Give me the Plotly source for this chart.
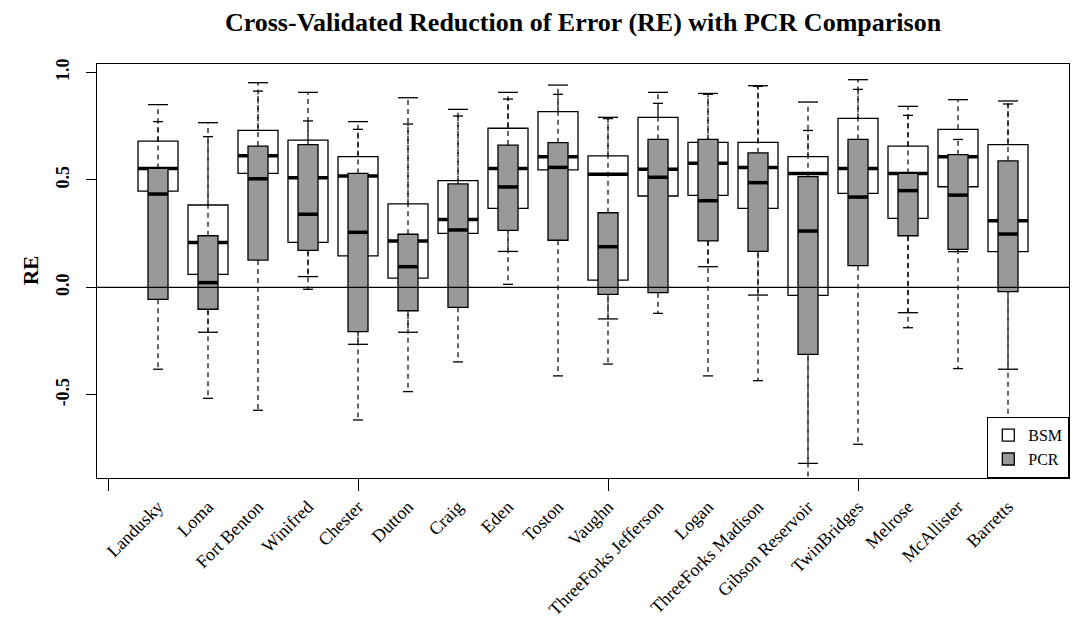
import plotly.graph_objects as go

# ---------------- data ----------------
categories = ["Landusky", "Loma", "Fort Benton", "Winifred", "Chester", "Dutton",
              "Craig", "Eden", "Toston", "Vaughn", "ThreeForks Jefferson", "Logan",
              "ThreeForks Madison", "Gibson Reservoir", "TwinBridges", "Melrose",
              "McAllister", "Barretts"]
positions = list(range(1, len(categories) + 1))

bsm_low = [0.20, -0.209, 0.30, 0.050, -0.265, -0.209, 0.10, 0.167, 0.35, -0.147,
           0.15, 0.096, -0.036, -0.819, 0.25, -0.118, 0.166, -0.381]
bsm_q1 = [0.448, 0.060, 0.530, 0.209, 0.146, 0.043, 0.251, 0.367, 0.546, 0.034,
          0.425, 0.428, 0.367, -0.037, 0.437, 0.321, 0.468, 0.166]
bsm_med = [0.553, 0.209, 0.612, 0.510, 0.518, 0.216, 0.316, 0.553, 0.608, 0.526,
           0.549, 0.577, 0.558, 0.530, 0.553, 0.530, 0.608, 0.310]
bsm_q3 = [0.680, 0.383, 0.730, 0.685, 0.608, 0.388, 0.496, 0.740, 0.817, 0.612,
          0.791, 0.674, 0.674, 0.608, 0.786, 0.657, 0.735, 0.664]
bsm_high = [0.850, 0.766, 0.952, 0.907, 0.771, 0.882, 0.828, 0.907, 0.941, 0.791,
            0.907, 0.902, 0.938, 0.862, 0.966, 0.842, 0.873, 0.867]

pcr_low = [-0.381, -0.516, -0.572, -0.009, -0.617, -0.485, -0.347, 0.014, -0.412, -0.357,
           -0.121, -0.412, -0.434, -0.950, -0.730, -0.188, -0.378, -0.614]
pcr_q1 = [-0.056, -0.102, 0.127, 0.172, -0.206, -0.109, -0.093, 0.265, 0.219, -0.033,
          -0.025, 0.216, 0.167, -0.312, 0.101, 0.240, 0.177, -0.020]
pcr_med = [0.434, 0.022, 0.505, 0.340, 0.256, 0.096, 0.267, 0.467, 0.558, 0.189,
           0.512, 0.403, 0.487, 0.262, 0.420, 0.450, 0.429, 0.248]
pcr_q3 = [0.553, 0.240, 0.657, 0.664, 0.530, 0.247, 0.481, 0.662, 0.673, 0.347,
          0.688, 0.688, 0.626, 0.515, 0.688, 0.530, 0.617, 0.588]
pcr_high = [0.771, 0.701, 0.913, 0.774, 0.735, 0.760, 0.797, 0.876, 0.898, 0.785,
            0.856, 0.898, 0.935, 0.730, 0.921, 0.800, 0.688, 0.853]

y_ticks = [-0.5, 0.0, 0.5, 1.0]
y_tick_text = ["-0.5", "0.0", "0.5", "1.0"]
x_axis_ticks = [0, 5, 10, 15]

SERIF = "Liberation Serif"
X_RANGE = [-0.22, len(categories) + 1.22]
Y_RANGE = [-0.887, 1.039]

fig = go.Figure()


def add_series(name, low, q1, med, q3, high, width, fill, xa, ya):
    fig.add_trace(go.Box(
        x=positions, q1=q1, median=med, q3=q3, lowerfence=q1, upperfence=q3,
        width=width, fillcolor=fill, line=dict(color="black", width=1.3),
        whiskerwidth=0, boxpoints=False, name=name, xaxis=xa, yaxis=ya,
        hoverinfo="skip"))
    # dashed whiskers, drawn from the box edge outwards
    wx, wy = [], []
    for p, a, b, c, d in zip(positions, low, q1, q3, high):
        wx += [p, p, None, p, p, None]
        wy += [c, d, None, b, a, None]
    fig.add_trace(go.Scatter(x=wx, y=wy, mode="lines",
                             line=dict(color="black", width=1.2, dash="5px,4px"),
                             showlegend=False, xaxis=xa, yaxis=ya, hoverinfo="skip"))
    # staples
    cx, cy = [], []
    hw = width / 4
    for p, a, d in zip(positions, low, high):
        cx += [p - hw, p + hw, None, p - hw, p + hw, None]
        cy += [d, d, None, a, a, None]
    fig.add_trace(go.Scatter(x=cx, y=cy, mode="lines",
                             line=dict(color="black", width=1.3),
                             showlegend=False, xaxis=xa, yaxis=ya, hoverinfo="skip"))
    # thick medians
    mx, my = [], []
    hb = width / 2
    for p, m in zip(positions, med):
        mx += [p - hb, p + hb, None]
        my += [m, m, None]
    fig.add_trace(go.Scatter(x=mx, y=my, mode="lines",
                             line=dict(color="black", width=3.5),
                             showlegend=False, xaxis=xa, yaxis=ya, hoverinfo="skip"))


add_series("BSM", bsm_low, bsm_q1, bsm_med, bsm_q3, bsm_high, 0.8, "white", "x", "y")
add_series("PCR", pcr_low, pcr_q1, pcr_med, pcr_q3, pcr_high, 0.4, "#999999", "x2", "y2")

fig.add_shape(type="line", xref="paper", x0=0, x1=1, yref="y", y0=0, y1=0,
              line=dict(color="black", width=1.3), layer="above")

fig.add_annotation(text="<b>RE</b>", xref="paper", yref="paper", x=0, y=0.5,
                   xshift=-66, xanchor="center", yanchor="middle", textangle=-90,
                   showarrow=False, font=dict(family=SERIF, size=21, color="black"))

fig.update_layout(
    width=1077, height=624,
    margin=dict(l=97, r=8, t=64, b=146, autoexpand=False),
    paper_bgcolor="white", plot_bgcolor="white",
    title=dict(text="<b>Cross-Validated Reduction of Error (RE) with PCR Comparison</b>",
               x=0.5, xref="paper", xanchor="center",
               y=1 - 22 / 624, yref="container", yanchor="middle",
               font=dict(family=SERIF, size=26, color="black")),
    showlegend=True,
    legend=dict(x=1, xanchor="right", y=0, yanchor="bottom",
                bgcolor="white", bordercolor="black", borderwidth=1.3,
                tracegroupgap=0, itemwidth=30,
                font=dict(family=SERIF, size=16, color="black")),
    xaxis=dict(range=X_RANGE, tickmode="array", tickvals=positions, ticktext=categories,
               tickangle=-45, ticks="", showline=True, mirror=True, linecolor="black",
               linewidth=1.3, showgrid=False, zeroline=False, ticklabelstandoff=10,
               automargin=False,
               tickfont=dict(family=SERIF, size=18, color="black")),
    yaxis=dict(range=Y_RANGE, tickmode="array", tickvals=y_ticks, ticktext=y_tick_text,
               tickangle=-90, ticks="outside", ticklen=10, tickwidth=1.3, tickcolor="black",
               showline=True, mirror=True, linecolor="black", linewidth=1.3,
               showgrid=False, zeroline=False, ticklabelstandoff=10, automargin=False,
               tickfont=dict(family=SERIF, size=18, color="black", weight="bold")),
    xaxis2=dict(range=X_RANGE, overlaying="x", anchor="y2", side="bottom",
                tickmode="array", tickvals=x_axis_ticks, ticks="outside", ticklen=12,
                tickwidth=1.3, tickcolor="black", showticklabels=False, automargin=False,
                showgrid=False, zeroline=False, showline=False),
    yaxis2=dict(range=Y_RANGE, overlaying="y", anchor="x2", visible=False, automargin=False),
)

fig.write_html("out.html")
